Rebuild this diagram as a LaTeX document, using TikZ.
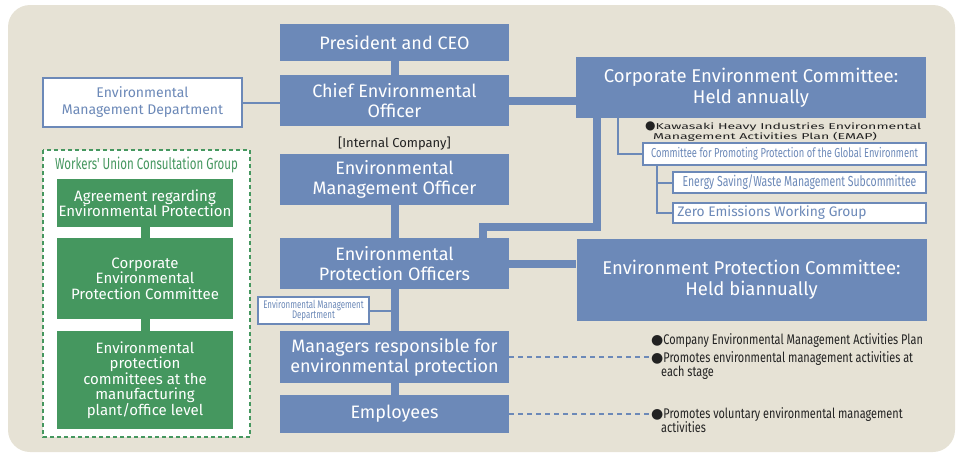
\documentclass[tikz,border=0pt]{standalone}
\usepackage{fontspec}
\setmainfont{Fira Sans}
\newfontfamily\narrowfont[FakeStretch=0.72]{Fira Sans}
\newfontfamily\notefont[FakeStretch=0.78]{Fira Sans}
\newfontfamily\widefont[FakeStretch=1.66]{Fira Sans}
\newfontfamily\dotfont{DejaVu Sans}
\usetikzlibrary{positioning,calc}

\definecolor{kblue}{HTML}{6C89B8}
\definecolor{kbg}{HTML}{E6E2D5}
\definecolor{kgreen}{HTML}{45975F}
\definecolor{ktext}{HTML}{222222}

\begin{document}
\begin{tikzpicture}[x=1pt,y=-1pt,
    bluebox/.style={rectangle, fill=kblue, text=white, inner sep=0pt, align=center, minimum width=229pt, font=\fontsize{18}{20}\selectfont},
    bigbox/.style={rectangle, fill=kblue, text=white, inner sep=0pt, align=center, minimum width=350pt, font=\fontsize{18.5}{21}\selectfont},
    whitebox/.style={rectangle, draw=kblue, line width=1.6pt, fill=white, text=kblue, inner sep=0pt, align=center},
    greenbox/.style={rectangle, fill=kgreen, text=white, inner sep=0pt, align=center, minimum width=176pt, font=\fontsize{15}{15.5}\selectfont},
    trunk/.style={kblue, line width=8pt},
    link/.style={kblue, line width=2pt},
    dashlink/.style={kblue, line width=1.5pt, dash pattern=on 5pt off 4pt},
    note/.style={anchor=north west, align=left, text=ktext, inner sep=0pt, font=\notefont\fontsize{14}{14}\selectfont}]
    \useasboundingbox (0,0) rectangle (958,453);
    \fill[kbg, rounded corners=22pt] (8,5) rectangle (955,452);

    \node[bluebox, minimum height=37pt] (pres) at (394.5,42.5) {President and CEO};
    \node[bluebox, minimum height=51pt] (ceo) at (394.5,100.5) {Chief Environmental\\Officer};
    \node[text=ktext, font=\fontsize{13}{15}\selectfont, inner sep=0pt] (intco) at (394.5,144) {[Internal Company]};
    \node[bluebox, minimum height=51pt] (emo) at (394.5,179.5) {Environmental\\Management Officer};
    \node[bluebox, minimum height=51pt] (epo) at (394.5,263.5) {Environmental\\Protection Officers};
    \node[bluebox, minimum height=52pt] (mgr) at (394.5,357) {Managers responsible for\\environmental protection};
    \node[bluebox, minimum height=38pt] (emp) at (394.5,414) {Employees};

    \node[bigbox, minimum height=61pt] (cec) at (751,87.5) {Corporate Environment Committee:\\Held annually};
    \node[bigbox, minimum height=82pt] (eprc) at (751.5,280) {Environment Protection Committee:\\Held biannually};

    \node[whitebox, minimum width=199pt, minimum height=49pt, font=\fontsize{14}{17}\selectfont] (emd) at (142.5,102.5) {Environmental\\Management Department};
    \node[whitebox, minimum width=111pt, minimum height=27pt, line width=1.2pt, font=\narrowfont\fontsize{11}{10}\selectfont] (emdsub) at (313.5,310.5) {Environmental Management\\Department};

    \node[note, font=\widefont\fontsize{8.5}{7.5}\selectfont] (emap) at (645,121.5) {{\dotfont\fontsize{12}{7.5}\selectfont●}Kawasaki Heavy Industries Environmental\\\hspace*{8pt}Management Activities Plan (EMAP)};
    \node[whitebox, minimum width=283pt, minimum height=22pt, font=\narrowfont\fontsize{13}{14}\selectfont] (cppge) at (784.5,154) {Committee for Promoting Protection of the Global Environment};
    \node[whitebox, minimum width=253pt, minimum height=21pt, font=\narrowfont\fontsize{14.5}{14}\selectfont] (esw) at (799.5,182.5) {Energy Saving/Waste Management Subcommittee};
    \node[whitebox, minimum width=253pt, minimum height=20pt, font=\fontsize{13.8}{14}\selectfont] (zero) at (799.5,213) {\hspace*{-55pt}Zero Emissions Working Group};

    \draw[kgreen, line width=1.6pt, dash pattern=on 4pt off 3pt, fill=white] (43,150) rectangle (250,437);
    \node[text=kgreen, font=\narrowfont\fontsize{16}{18}\selectfont, inner sep=0pt] (wucg) at (146.5,165) {Workers' Union Consultation Group};
    \node[greenbox, minimum height=48pt] (agr) at (145,203) {Agreement regarding\\Environmental Protection};
    \node[greenbox, minimum height=81pt] (cepc) at (145,278.5) {Corporate\\Environmental\\Protection Committee};
    \node[greenbox, minimum height=98pt] (epc) at (145,380) {Environmental\\protection\\committees at the\\manufacturing\\plant/office level};

    \node[note] (plan) at (651,333) {{\dotfont\fontsize{14}{14}\selectfont●}Company Environmental Management Activities Plan};
    \node[note] (stage) at (651,351) {{\dotfont\fontsize{14}{14}\selectfont●}Promotes environmental management activities at\\\hspace*{10pt}each stage};
    \node[note] (volun) at (651,407.5) {{\dotfont\fontsize{14}{14}\selectfont●}Promotes voluntary environmental management\\\hspace*{10pt}activities};

    \coordinate (k1) at (597,227);
    \coordinate (k2) at (483,227);
    \coordinate (k3) at (618,154);
    \coordinate (k4) at (657,0);

    \draw[trunk] (pres) -- (ceo);
    \draw[trunk] (emo) -- (epo);
    \draw[trunk] (epo) -- (mgr);
    \draw[trunk] (mgr) -- (emp);
    \draw[trunk] (ceo.east) -- (ceo.east -| cec.west);
    \draw[trunk] (epo.east) -- (epo.east -| eprc.west);
    \draw[trunk, line join=miter] (cec.south -| k1) -- (k1) -- (k2) -- (epo.north -| k2);
    \draw[link] (emd.east) -- (emd.east -| ceo.west);
    \draw[link] (emdsub.east) -- (emdsub.east -| epo.south);
    \draw[link] (cec.south -| k3) |- (cppge.west);
    \draw[link] (cppge.south -| k4) |- (esw.west);
    \draw[link] (cppge.south -| k4) |- (zero.west);
    \draw[kgreen, line width=9pt] (agr) -- (cepc);
    \draw[kgreen, line width=9pt] (cepc) -- (epc);
    \draw[dashlink] (mgr.east) -- (mgr.east -| stage.west);
    \draw[dashlink] (emp.east) -- (emp.east -| volun.west);
\end{tikzpicture}
\end{document}
